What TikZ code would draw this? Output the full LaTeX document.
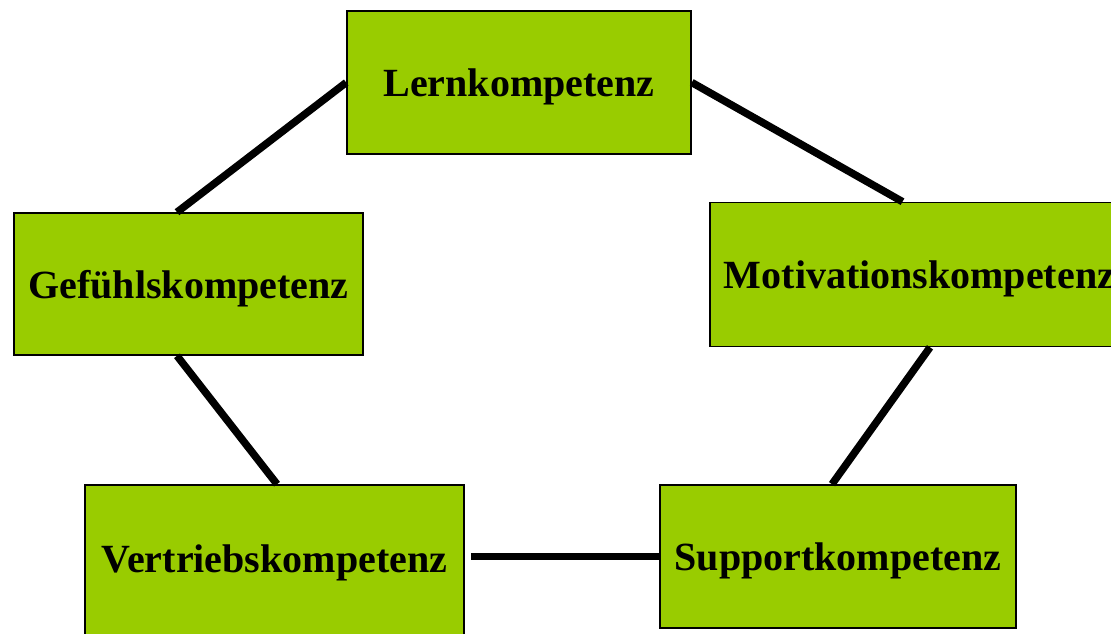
\documentclass[tikz,border=0pt]{standalone}
\usepackage{fontspec}
\setmainfont{Liberation Serif}
\usepackage{tikz}

\begin{document}
\begin{tikzpicture}[x=1pt,y=-1pt]
\definecolor{kgreen}{HTML}{99CC00}
\tikzstyle{every path}=[line width=7.5pt]
\def\sizefont{\fontsize{40}{48}\selectfont\bfseries}
\tikzstyle{kbox}=[draw,line width=1.6pt,fill=kgreen,inner sep=0pt,text depth=0pt,font=\sizefont]
\useasboundingbox (0,0) rectangle (1111,634);
 \node [kbox,minimum width=344pt,minimum height=143pt] at (519,82.5) (lern) {Lernkompetenz};
 \node [kbox,minimum width=349pt,minimum height=142pt] at (188.5,284) (gef) {Gefühlskompetenz};
 \node [kbox,minimum width=419pt,minimum height=144pt] at (919.5,274.5) (mot) {Motivationskompetenz};
 \node [kbox,minimum width=379pt,minimum height=156pt,text depth=8pt] at (274.5,563) (ver) {Vertriebskompetenz};
 \node [kbox,minimum width=356pt,minimum height=143pt] at (838,556.5) (sup) {Supportkompetenz};
 \draw (lern.west) -- ([xshift=-11.5pt]gef.north);
 \draw (lern.east) -- ([xshift=-17pt]mot.north);
 \draw ([xshift=-11.5pt]gef.south) -- ([xshift=2.5pt]ver.north);
 \draw ([xshift=10.5pt]mot.south) -- ([xshift=-6pt]sup.north);
 \draw ([xshift=6pt]ver.east |- sup.west) -- (sup.west);
\end{tikzpicture}
\end{document}
